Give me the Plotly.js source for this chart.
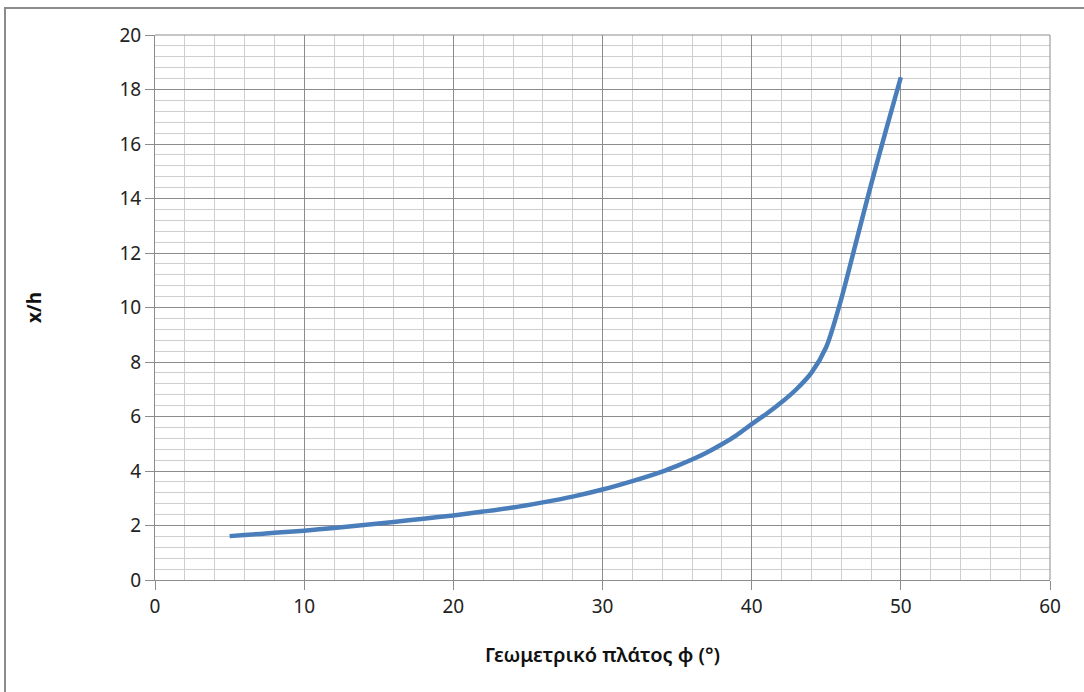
<!DOCTYPE html>
<html>
<head>
<meta charset="utf-8">
<script src="https://cdn.plot.ly/plotly-3.0.1.min.js"></script>
<style>
html,body{margin:0;padding:0;background:#fff;}
#chart{width:1084px;height:692px;}
#frame{position:absolute;left:4px;top:7px;width:1100px;height:700px;border-left:2px solid #8c8c8c;border-top:2px solid #8c8c8c;pointer-events:none;}
</style>
</head>
<body>
<div id="chart"></div>
<div id="frame"></div>
<script>
const latitude = [5, 6, 8, 10, 12, 14, 16, 18, 20, 22, 24, 26, 28, 30, 32, 34, 35, 36, 37, 38, 39, 40, 41, 42, 43, 44, 45, 46, 47, 48, 49, 50];
const ratio = [1.61, 1.65, 1.73, 1.81, 1.91, 2.02, 2.13, 2.25, 2.37, 2.51, 2.66, 2.85, 3.06, 3.32, 3.63, 3.98, 4.19, 4.42, 4.68, 4.98, 5.32, 5.72, 6.1, 6.52, 7.0, 7.6, 8.55, 10.3, 12.4, 14.5, 16.5, 18.45];
const xTitle = 'Γεωμετρικό πλάτος φ (°)';
const yTitle = 'x/h';

const font = 'Noto Sans, Open Sans, sans-serif';
const data = [{
  x: latitude, y: ratio, type: 'scatter', mode: 'lines',
  line: {color: '#4a7ebb', width: 4.5, shape: 'spline', smoothing: 0.8},
  hoverinfo: 'x+y'
}];
const layout = {
  width: 1084, height: 692,
  margin: {l: 155, r: 34, t: 35, b: 112},
  paper_bgcolor: '#ffffff', plot_bgcolor: '#ffffff',
  showlegend: false,
  font: {family: font, size: 19, color: '#222222'},
  xaxis: {
    range: [0, 60], dtick: 10, tick0: 0,
    showgrid: true, gridcolor: '#8c8c8c', gridwidth: 1,
    showline: true, linecolor: '#8c8c8c', linewidth: 1, mirror: false,
    ticks: 'outside', ticklen: 9, tickcolor: '#8c8c8c',
    zeroline: false,
    minor: {dtick: 2, showgrid: true, gridcolor: '#cfcfcf', gridwidth: 1, ticks: ''},
    tickfont: {family: font, size: 19, color: '#222222'},
    title: {text: xTitle, font: {family: font, size: 20, color: '#111111', weight: 600}, standoff: 30}
  },
  yaxis: {
    range: [0, 20], dtick: 2, tick0: 0,
    showgrid: true, gridcolor: '#8c8c8c', gridwidth: 1,
    showline: true, linecolor: '#8c8c8c', linewidth: 1,
    ticks: 'outside', ticklen: 9, tickcolor: '#8c8c8c',
    zeroline: false,
    minor: {dtick: 0.4, showgrid: true, gridcolor: '#cfcfcf', gridwidth: 1, ticks: ''},
    tickfont: {family: font, size: 19, color: '#222222'},
    title: {text: yTitle, font: {family: font, size: 19, color: '#111111', weight: 'bold'}, standoff: 72}
  },
  shapes: [{type: 'line', xref: 'paper', yref: 'paper', x0: 1, x1: 1, y0: 0, y1: 1, line: {color: '#8c8c8c', width: 1}},
           {type: 'line', xref: 'paper', yref: 'paper', x0: 0, x1: 1, y0: 1, y1: 1, line: {color: '#8c8c8c', width: 1}}]
};
Plotly.newPlot('chart', data, layout, {displayModeBar: false, staticPlot: true});
</script>
</body>
</html>
